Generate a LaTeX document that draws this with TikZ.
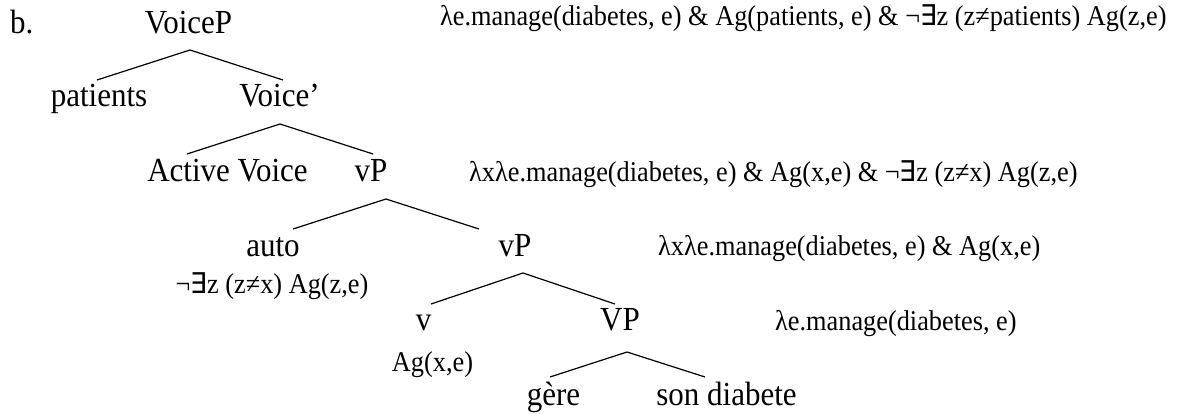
\documentclass[tikz,border=0pt]{standalone}
\usepackage{fontspec}
\setmainfont{Liberation Serif}[FakeStretch=0.92]
\newfontfamily\exfont{DejaVu Sans}[FakeStretch=0.92]
\newcommand{\Ex}{{\exfont ∃}}
\begin{document}
\begin{tikzpicture}[x=1pt,y=-1pt,
  tree/.style={anchor=base,inner sep=0pt,font=\fontsize{33.7}{33.7}\selectfont},
  sem/.style={anchor=base west,inner sep=0pt,font=\fontsize{28.6}{28.6}\selectfont},
  semc/.style={anchor=base,inner sep=0pt,font=\fontsize{28.6}{28.6}\selectfont},
  branch/.style={line width=1.2pt}]
\useasboundingbox (0,0) rectangle (1178,413);
% labels
\node[tree,anchor=base west] (b) at (10,33) {b.};
\node[tree] (VoiceP) at (188.5,33) {VoiceP};
\node[tree] (patients) at (99,106) {patients};
\node[tree] (Voicebar) at (279.5,106) {Voice’};
\node[tree] (Active) at (227.5,181) {Active Voice};
\node[tree] (vP1) at (371,181) {vP};
\node[tree] (auto) at (273,256) {auto};
\node[tree] (vP2) at (515,256) {vP};
\node[tree] (v) at (423.5,330) {v};
\node[tree] (VP) at (620,330) {VP};
\node[tree] (gere) at (553.5,405) {gère};
\node[tree] (son) at (726.5,405) {son diabete};
% semantics
\node[sem] (s1) at (440,25) {λe.manage(diabetes, e) \& Ag(patients, e) \& ¬\Ex z (z≠patients) Ag(z,e)};
\node[sem] (s2) at (469,181) {λxλe.manage(diabetes, e) \& Ag(x,e) \& ¬\Ex z (z≠x) Ag(z,e)};
\node[sem] (s3) at (658,255) {λxλe.manage(diabetes, e) \& Ag(x,e)};
\node[sem] (s4) at (775,330) {λe.manage(diabetes, e)};
\node[semc] (s5) at (272,293) {¬\Ex z (z≠x) Ag(z,e)};
\node[semc] (s6) at (432.5,371) {Ag(x,e)};
% branch points
\coordinate (a1) at (190,50);  \coordinate (l1) at (97,80);   \coordinate (r1) at (283,80);
\coordinate (a2) at (280,124); \coordinate (l2) at (187,154); \coordinate (r2) at (373,154);
\coordinate (a3) at (386,199); \coordinate (l3) at (293,229); \coordinate (r3) at (479,229);
\coordinate (a4) at (523,273); \coordinate (l4) at (431,304); \coordinate (r4) at (615,304);
\coordinate (a5) at (627,352); \coordinate (l5) at (550,377); \coordinate (r5) at (705,377);
\draw[branch] (l1) -- (a1) -- (r1);
\draw[branch] (l2) -- (a2) -- (r2);
\draw[branch] (l3) -- (a3) -- (r3);
\draw[branch] (l4) -- (a4) -- (r4);
\draw[branch] (l5) -- (a5) -- (r5);
\end{tikzpicture}
\end{document}
